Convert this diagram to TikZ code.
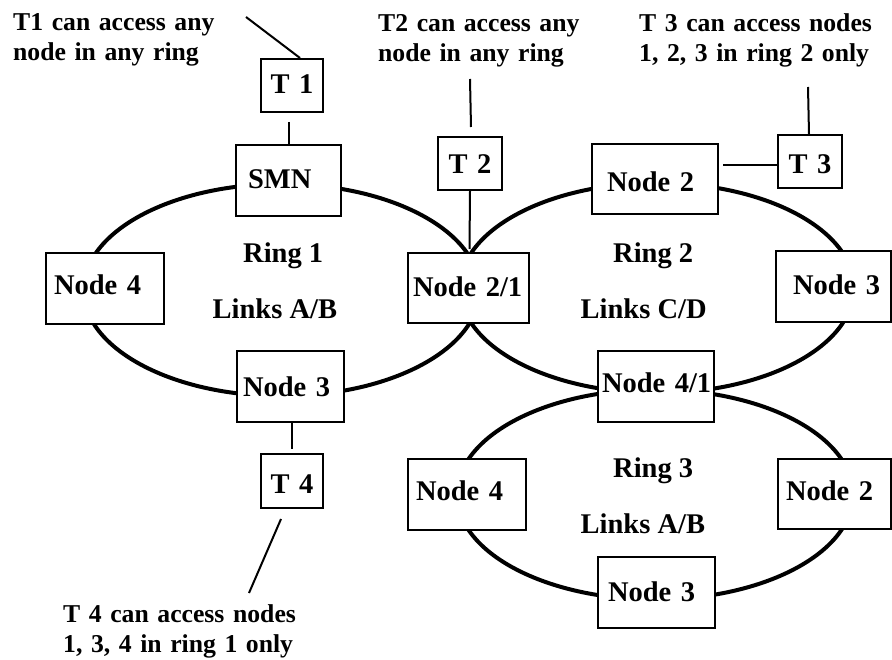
\documentclass[tikz,border=0pt]{standalone}
\usepackage{fontspec}
\setmainfont{Liberation Serif}
\usetikzlibrary{calc}

\newcommand\labelfont{\fontsize{28.5}{34}\selectfont\bfseries}
\newcommand\notefont{\fontsize{25.7}{30}\selectfont\bfseries}

\tikzset{
  ring/.style={line width=4pt},
  lead/.style={line width=2pt},
  % box: width, height above baseline, depth below baseline
  box/.style n args={3}{draw, line width=2pt, fill=white, inner sep=0pt,
    anchor=north west, text width=#1pt, text height=#2pt, text depth=#3pt,
    align=left, font=\labelfont},
  tbox/.style n args={3}{box={#1}{#2}{#3}, align=center},
  note/.style={inner sep=0pt, anchor=base west, text width=260pt,
    align=left, font=\notefont},
  ringlabel/.style={inner sep=0pt, anchor=base west, font=\labelfont},
}

\begin{document}
\begin{tikzpicture}[x=1pt, y=-1pt]
\useasboundingbox (0,0) rectangle (892,660);

% the three rings
\draw[ring] (281.5,290) ellipse [x radius=198pt, y radius=106pt];
\draw[ring] (657,288) ellipse [x radius=197pt, y radius=105pt];
\draw[ring] (655,494.5) ellipse [x radius=198pt, y radius=105pt];

% ring 1
\node[box={105}{44}{27}] (smn)  at (235,144) {\hspace*{12pt}SMN};
\node[box={118}{42}{29}] (r1n4) at (45,252)  {\hspace*{8pt}Node 4};
\node[box={121}{44}{26}] (n21)  at (407,252) {\hspace*{5pt}Node 2/1};
\node[box={107}{45}{26}] (r1n3) at (236,350) {\hspace*{6pt}Node 3};

% ring 2
\node[box={126}{48}{22}] (r2n2) at (591,143) {\hspace*{15pt}Node 2};
\node[box={115}{44}{27}] (r2n3) at (775,250) {\hspace*{17pt}Node 3};
\node[box={116}{41}{30}] (n41)  at (597,350) {\hspace*{4pt}Node 4/1};

% ring 3
\node[box={118}{41}{30}] (r3n4) at (407,458) {\hspace*{8pt}Node 4};
\node[box={113}{41}{29}] (r3n2) at (777,458) {\hspace*{8pt}Node 2};
\node[box={117}{44}{27}] (r3n3) at (597,556) {\hspace*{10pt}Node 3};

% terminals
\node[tbox={62}{35}{18}] (t1) at (260,58)  {T 1};
\node[tbox={64}{37}{16}] (t2) at (437,136) {T 2};
\node[tbox={64}{39}{14}] (t3) at (777,134) {T 3};
\node[tbox={62}{39}{15}] (t4) at (260,453) {T 4};

% ring labels
\node[ringlabel] (ring1) at (243,263)   {Ring 1};
\node[ringlabel] (links1) at (212.5,318.5) {Links A/B};
\node[ringlabel] (ring2) at (613,262.5) {Ring 2};
\node[ringlabel] (links2) at (580.5,319) {Links C/D};
\node[ringlabel] (ring3) at (613,477)   {Ring 3};
\node[ringlabel] (links3) at (580.5,533) {Links A/B};

% notes
\node[note] (t1note) at (13,31)   {T1 can access any\\node in any ring};
\node[note] (t2note) at (378,31.5) {T2 can access any\\node in any ring};
\node[note] (t3note) at (639,31.5) {T 3 can access nodes\\1, 2, 3 in ring 2 only};
\node[note] (t4note) at (63,622)  {T 4 can access nodes\\1, 3, 4 in ring 1 only};

% leader ends
\coordinate (t1tip) at (246,17);
\coordinate (t2tip) at (470,79);
\coordinate (t3tip) at (808,87);
\coordinate (t4tip) at (249,593);

% connectors
\draw[lead] (t1tip) -- ($(t1.north)+(8,0)$);
\draw[lead] ($(t1.south)+(-3,9)$) -- ($(smn.north)+(0.5,0)$);

\draw[lead] (t2tip) -- ($(t2.north)+(1,-9)$);
\draw[lead] (t2.south) -- ($(n21.north)+(1,-3)$);

\draw[lead] (t3tip) -- ($(t3.north)+(-1,0)$);
\draw[lead] ($(t3.west)+(0,3.5)$) -- ($(r2n2.east |- t3.west)+(4,3.5)$);

\draw[lead] (t4.north |- r1n3.south) -- ($(t4.north)+(0,-4)$);
\draw[lead] ($(t4.south)+(-11,10)$) -- (t4tip);
\end{tikzpicture}
\end{document}
